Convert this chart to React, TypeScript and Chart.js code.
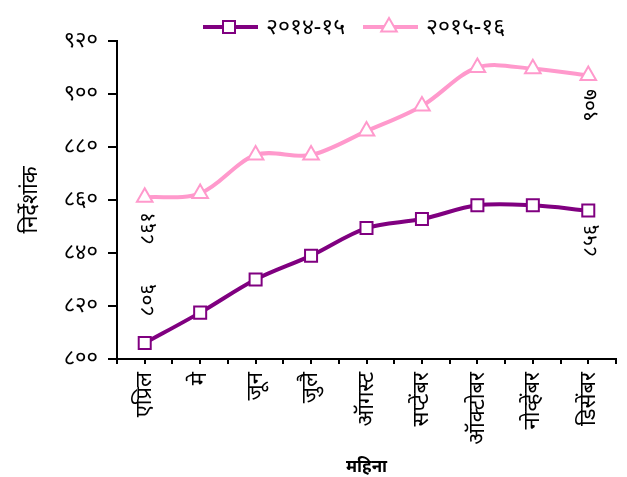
import React, { useEffect, useRef } from "react";
import { Chart, registerables } from "chart.js";

Chart.register(...registerables);

const months = ["एप्रिल", "मे", "जून", "जुलै", "ऑगस्ट", "सप्टेंबर", "ऑक्टोबर", "नोव्हेंबर", "डिसेंबर"];
const series1Label = "२०१४-१५";
const series2Label = "२०१५-१६";
const series1 = [806, 817.5, 830, 839, 849.4, 852.8, 858, 858, 856];
const series2 = [861, 862.5, 877, 877, 886, 895.5, 910, 909.5, 907];
const yMin = 800;
const yMax = 920;
const yStep = 20;
const yTitle = "निर्देशांक";
const xTitle = "महिना";

const PURPLE = "#800080";
const PINK = "#FF99CC";
const FONT = "'Noto Sans', 'DejaVu Sans', sans-serif";

const toDeva = (s: string | number) =>
  String(s).replace(/[0-9]/g, (d) => String.fromCharCode(0x0966 + Number(d)));

// labels: [datasetIndex, pointIndex, offset along y (px, + is down)]
const dataLabels: [number, number, number][] = [
  [0, 0, -43],
  [1, 0, 31],
  [0, 8, 30],
  [1, 8, 30],
];

const extrasPlugin = {
  id: "extras",
  afterDatasetsDraw(chart: any) {
    const ctx = chart.ctx;
    const area = chart.chartArea;
    const xs = chart.scales.x;
    // center tick marks for x axis
    ctx.save();
    ctx.strokeStyle = "#000";
    ctx.lineWidth = 2;
    for (let i = 0; i < months.length; i++) {
      const x = Math.round(xs.getPixelForValue(i));
      ctx.beginPath();
      ctx.moveTo(x, area.bottom);
      ctx.lineTo(x, area.bottom + 5);
      ctx.stroke();
    }
    ctx.restore();

    // data labels
    ctx.save();
    ctx.fillStyle = "#000";
    ctx.font = `21px ${FONT}`;
    ctx.textAlign = "center";
    ctx.textBaseline = "middle";
    for (const [ds, idx, off] of dataLabels) {
      const meta = chart.getDatasetMeta(ds);
      const pt = meta.data[idx];
      const val = (ds === 0 ? series1 : series2)[idx];
      ctx.save();
      ctx.translate(pt.x + 3, pt.y + off);
      ctx.rotate(-Math.PI / 2);
      ctx.fillText(toDeva(Math.round(val)), 0, 0);
      ctx.restore();
    }
    ctx.restore();

    // legend
    ctx.save();
    const ly = 27;
    const drawItem = (x0: number, color: string, marker: string, text: string) => {
      ctx.strokeStyle = color;
      ctx.lineWidth = 4;
      ctx.beginPath();
      ctx.moveTo(x0, ly);
      ctx.lineTo(x0 + 55, ly);
      ctx.stroke();
      const cx = x0 + 26;
      ctx.fillStyle = "#fff";
      ctx.lineWidth = 2;
      ctx.beginPath();
      if (marker === "rect") {
        ctx.rect(cx - 6, ly - 6, 12, 12);
      } else {
        const r = 9;
        ctx.moveTo(cx, ly - r);
        ctx.lineTo(cx + r * 0.866, ly + r / 2);
        ctx.lineTo(cx - r * 0.866, ly + r / 2);
        ctx.closePath();
      }
      ctx.fill();
      ctx.stroke();
      ctx.fillStyle = "#000";
      ctx.font = `23px ${FONT}`;
      ctx.textAlign = "left";
      ctx.textBaseline = "middle";
      ctx.fillText(text, x0 + 63, ly);
    };
    drawItem(203, PURPLE, "rect", series1Label);
    drawItem(363, PINK, "triangle", series2Label);
    ctx.restore();
  },
};

export default function App() {
  const ref = useRef<HTMLCanvasElement>(null);
  useEffect(() => {
    if (!ref.current) return;
    const chart = new Chart(ref.current, {
      type: "line",
      data: {
        labels: months,
        datasets: [
          {
            label: series1Label,
            data: series1,
            borderColor: PURPLE,
            borderWidth: 4,
            pointStyle: "rect",
            pointRadius: 8.5,
            pointBorderWidth: 2,
            pointBackgroundColor: "#fff",
            pointBorderColor: PURPLE,
            tension: 0.33,
          },
          {
            label: series2Label,
            data: series2,
            borderColor: PINK,
            borderWidth: 4,
            pointStyle: "triangle",
            pointRadius: 9,
            pointBorderWidth: 2,
            pointBackgroundColor: "#fff",
            pointBorderColor: PINK,
            tension: 0.33,
          },
        ],
      },
      options: {
        animation: false,
        responsive: false,
        layout: { padding: { top: 41, right: 10, bottom: 0, left: 0 } },
        plugins: { legend: { display: false }, tooltip: { enabled: false } },
        scales: {
          x: {
            offset: true,
            grid: { offset: true, drawOnChartArea: false, tickLength: 5, color: "#000", lineWidth: 2 },
            border: { display: true, color: "#000", width: 2 },
            ticks: {
              minRotation: 90,
              maxRotation: 90,
              padding: 8,
              color: "#000",
              font: { family: FONT, size: 22 },
            },
            title: {
              display: true,
              text: xTitle,
              color: "#000",
              font: { family: FONT, size: 17, weight: "bold" },
              padding: { top: 0, bottom: 0 },
            },
            afterFit: (s: any) => {
              s.height = 118;
            },
          },
          y: {
            min: yMin,
            max: yMax,
            grid: { drawOnChartArea: false, tickLength: 9, color: "#000", lineWidth: 2 },
            border: { display: true, color: "#000", width: 2 },
            ticks: {
              stepSize: yStep,
              padding: 10,
              color: "#000",
              font: { family: FONT, size: 22 },
              callback: (v: any) => toDeva(v),
            },
            title: {
              display: true,
              text: yTitle,
              color: "#000",
              font: { family: FONT, size: 22 },
              padding: { top: 18, bottom: 0 },
            },
            afterFit: (s: any) => {
              s.width = 117;
            },
          },
        },
      },
      plugins: [extrasPlugin],
    });
    return () => chart.destroy();
  }, []);
  return (
    <div style={{ position: "absolute", left: 0, top: 0, width: 627, height: 477, background: "#fff" }}>
      <canvas ref={ref} width={627} height={477} style={{ width: 627, height: 477 }} />
    </div>
  );
}
